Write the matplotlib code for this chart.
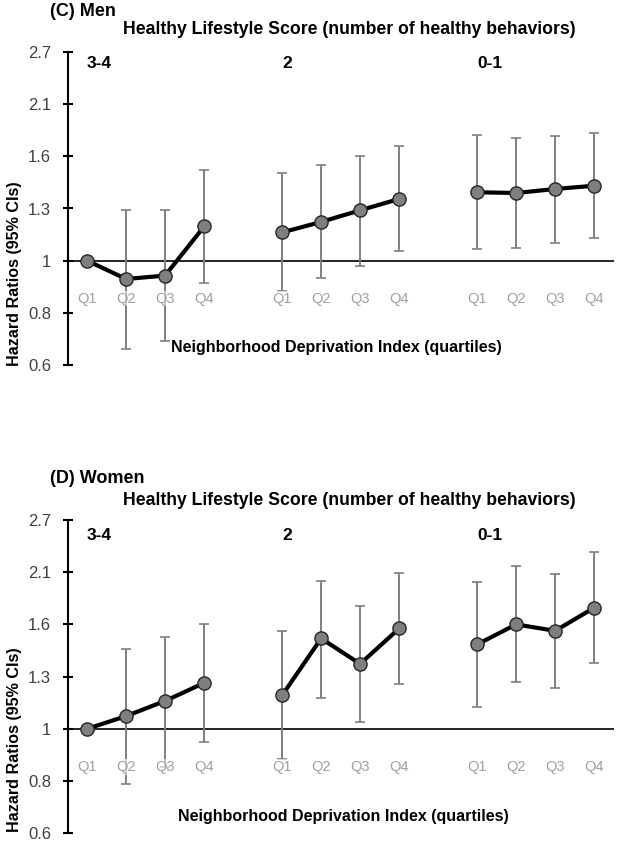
import numpy as np
import matplotlib
matplotlib.use("Agg")
import matplotlib.pyplot as plt
import matplotlib.transforms as mtransforms

plt.rcParams['font.family'] = ['Liberation Sans', 'DejaVu Sans']

# ---------------- data ----------------
groups = ["3-4", "2", "0-1"]
quartiles = ["Q1", "Q2", "Q3", "Q4"]

men_hr = [1.00, 0.916, 0.931, 1.178, 1.145, 1.204, 1.273, 1.344, 1.388, 1.383, 1.410, 1.432]
men_lo = [np.nan, 0.656, 0.680, 0.900, 0.863, 0.919, 0.976, 1.045, 1.056, 1.064, 1.090, 1.115]
men_hi = [np.nan, 1.277, 1.277, 1.546, 1.524, 1.581, 1.653, 1.735, 1.826, 1.802, 1.820, 1.843]

women_hr = [1.00, 1.063, 1.143, 1.246, 1.174, 1.542, 1.365, 1.617, 1.498, 1.649, 1.599, 1.785]
women_lo = [np.nan, 0.767, 0.832, 0.940, 0.864, 1.162, 1.034, 1.237, 1.111, 1.249, 1.219, 1.370]
women_hi = [np.nan, 1.465, 1.551, 1.649, 1.599, 2.031, 1.797, 2.111, 2.019, 2.180, 2.100, 2.331]

ytick_labels = ["0.6", "0.8", "1", "1.3", "1.6", "2.1", "2.7"]
ytick_logs = [-0.5, -0.25, 0.0, 0.25, 0.5, 0.75, 1.0]

W, H = 619, 847
fig = plt.figure(figsize=(W / 100, H / 100), dpi=100)

def fx(px):
    return px / W

def fy(py):
    return 1 - py / H

# x positions: 4 per group, one empty slot between groups
xpos = []
for g in range(len(groups)):
    xpos += [g * 5 + q for q in range(len(quartiles))]
xpos = np.array(xpos, dtype=float)


def panel(top_px, bottom_px, hr, lo, hi, letter_title, letter_y, title_y,
          grp_y, xlab_x, xlab_y, ylab_y):
    left_px, right_px = 68, 614
    ax = fig.add_axes([fx(left_px), fy(bottom_px), fx(right_px - left_px),
                       (bottom_px - top_px) / H])
    ax.set_yscale('log')
    ax.set_ylim(np.exp(ytick_logs[0]), np.exp(ytick_logs[-1]))
    ax.set_xlim(-0.49, 13.51)
    ax.patch.set_visible(False)

    hr = np.array(hr); lo = np.array(lo); hi = np.array(hi)
    yerr = np.vstack([hr - lo, hi - hr])
    ax.errorbar(xpos, hr, yerr=yerr, fmt='none', ecolor='#7f7f7f',
                elinewidth=1.4, capsize=3.5, capthick=1.2, zorder=2)
    for g in range(len(groups)):
        sl = slice(g * 4, g * 4 + 4)
        ax.plot(xpos[sl], hr[sl], color='black', lw=3.0, zorder=3,
                marker='o', markersize=9.5, markerfacecolor='#7f7f7f',
                markeredgecolor='#262626', markeredgewidth=1.0)

    ax.axhline(1.0, color='black', lw=1.2, zorder=1)

    # y axis
    ax.yaxis.set_minor_locator(matplotlib.ticker.NullLocator())
    ax.set_yticks(np.exp(ytick_logs))
    ax.set_yticklabels(ytick_labels)
    ax.tick_params(axis='y', direction='inout', length=6.5, width=1.5,
                   labelsize=12, pad=9, colors='black')
    for lab in ax.get_yticklabels():
        lab.set_color('#404040')
    for s in ['top', 'right', 'bottom']:
        ax.spines[s].set_visible(False)
    ax.spines['left'].set_linewidth(1.5)

    # x category labels, placed below the line at 1
    ax.set_xticks([])
    blend = mtransforms.blended_transform_factory(ax.transData, fig.transFigure)
    y1_frac = (0 - ytick_logs[0]) / (ytick_logs[-1] - ytick_logs[0])
    y1_px = bottom_px - y1_frac * (bottom_px - top_px)
    for x, q in zip(xpos, quartiles * len(groups)):
        ax.text(x, fy(y1_px + 38), q, transform=blend, ha='center', va='center',
                fontsize=10.5, color='#a0a0a0', zorder=4,
                bbox=dict(boxstyle='square,pad=0.05', fc='white', ec='none', alpha=0.6))

    # group labels
    for g, name in enumerate(groups):
        ax.text(g * 5, fy(grp_y), name, transform=blend, ha='left', va='center',
                fontsize=12.5, fontweight='bold', color='black')

    ax.set_ylabel("Hazard Ratios (95% CIs)", fontsize=11.6, fontweight='bold',
                  color='black')
    ax.yaxis.set_label_coords((22 - left_px) / (right_px - left_px),
                              (bottom_px - ylab_y) / (bottom_px - top_px))

    fig.text(fx(50), fy(letter_y), letter_title, ha='left', va='center',
             fontsize=13, fontweight='bold')
    fig.text(fx(349), fy(title_y),
             "Healthy Lifestyle Score (number of healthy behaviors)",
             ha='center', va='center', fontsize=12.7, fontweight='bold')
    fig.text(fx(xlab_x), fy(xlab_y), "Neighborhood Deprivation Index (quartiles)",
             ha='center', va='center', fontsize=11.5, fontweight='bold')
    return ax


panel(52, 365, men_hr, men_lo, men_hi, "(C) Men", 12, 29, 64, 336, 347, 274)
panel(520, 833.3, women_hr, women_lo, women_hi, "(D) Women", 478, 500, 535, 343, 816, 740)

fig.savefig("out.png", dpi=100, facecolor='white')
